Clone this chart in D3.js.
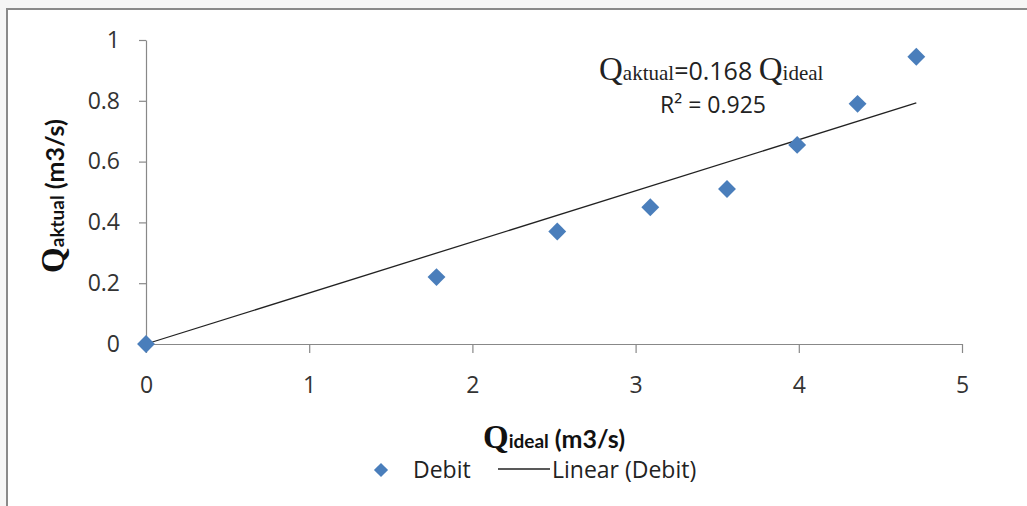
<!DOCTYPE html>
<html>
<head>
<meta charset="utf-8">
<script src="https://cdn.jsdelivr.net/npm/d3@7"></script>
<style>
  body { margin: 0; background: #f6f6f6; }
  svg { display: block; }
  .tick text { font-family: "Open Sans", sans-serif; font-size: 23px; fill: #333; }
</style>
</head>
<body>
<svg id="chart" width="1027" height="506"></svg>
<script>
// data
var qIdeal  = [0, 1.78, 2.52, 3.09, 3.56, 3.99, 4.36, 4.72];
var qAktual = [0, 0.22, 0.37, 0.45, 0.51, 0.655, 0.79, 0.945];
var xTicks = [0, 1, 2, 3, 4, 5];
var yTicks = [0, 0.2, 0.4, 0.6, 0.8, 1];
var slope = 0.168;
var r2 = 0.925;

var svg = d3.select("#chart");

// chart frame
svg.append("rect")
  .attr("x", 7).attr("y", 9)
  .attr("width", 1040).attr("height", 520)
  .attr("fill", "#fff")
  .attr("stroke", "#8a8a8a")
  .attr("stroke-width", 2);

var x = d3.scaleLinear().domain([0, 5]).range([146, 962]);
var y = d3.scaleLinear().domain([0, 1]).range([344, 40]);

svg.append("g")
  .attr("transform", "translate(0," + y(0) + ")")
  .call(d3.axisBottom(x).tickValues(xTicks).tickSize(9).tickSizeOuter(0).tickPadding(24).tickFormat(d3.format("d")));

svg.append("g")
  .attr("transform", "translate(" + x(0) + ",0)")
  .call(d3.axisLeft(y).tickValues(yTicks).tickSize(7).tickSizeOuter(0).tickPadding(19).tickFormat((d) => (d === 0 || d === 1 ? d : d.toFixed(1))));

svg.selectAll(".domain, .tick line").attr("stroke", "#888").attr("stroke-width", 1.2);

// trendline through origin
var xMax = d3.max(qIdeal);
svg.append("line")
  .attr("x1", x(0)).attr("y1", y(0))
  .attr("x2", x(xMax)).attr("y2", y(slope * xMax))
  .attr("stroke", "#222")
  .attr("stroke-width", 1.3);

// points
var pts = qIdeal.map((d, i) => ({ x: d, y: qAktual[i] }));
svg.selectAll("path.pt")
  .data(pts)
  .enter()
  .append("path")
  .attr("class", "pt")
  .attr("d", d3.symbol().type(d3.symbolSquare).size(160))
  .attr("transform", (d) => ("translate(" + x(d.x) + "," + y(d.y) + ") rotate(45)"))
  .attr("fill", "#4a7ebb");

// equation text
var eq = svg.append("text")
  .attr("x", 599).attr("y", 80)
  .style("fill", "#222");
eq.append("tspan").text("Q")
  .style("font-family", "'Liberation Serif', serif").style("font-size", "33px");
eq.append("tspan").text("aktual")
  .style("font-family", "'Liberation Serif', serif").style("font-size", "21px");
eq.append("tspan").text("=" + slope + " ")
  .style("font-family", "'Open Sans', sans-serif").style("font-size", "25px");
eq.append("tspan").text("Q")
  .style("font-family", "'Liberation Serif', serif").style("font-size", "33px");
eq.append("tspan").text("ideal")
  .style("font-family", "'Liberation Serif', serif").style("font-size", "21px");

svg.append("text")
  .attr("x", 660).attr("y", 113)
  .style("font-family", "'Open Sans', sans-serif").style("font-size", "23px").style("fill", "#222")
  .text("R² = " + r2);

// axis titles
function axisTitle(g, sub) {
  g.append("tspan").text("Q")
    .style("font-family", "'Liberation Serif', serif").style("font-size", "33px").style("font-weight", "bold");
  g.append("tspan").text(sub)
    .style("font-family", "Lato, sans-serif").style("font-size", "19px").style("font-weight", "bold");
  g.append("tspan").text(" (m3/s)")
    .style("font-family", "Lato, sans-serif").style("font-size", "25px").style("font-weight", "bold");
}

var xt = svg.append("text")
  .attr("x", 554).attr("y", 448)
  .attr("text-anchor", "middle")
  .style("fill", "#111");
axisTitle(xt, "ideal");

var yt = svg.append("text")
  .attr("transform", "translate(64,196) rotate(-90)")
  .attr("text-anchor", "middle")
  .style("fill", "#111");
axisTitle(yt, "aktual");

// legend
var lg = svg.append("g").attr("transform", "translate(381,470)");
lg.append("path")
  .attr("d", d3.symbol().type(d3.symbolSquare).size(100))
  .attr("transform", "rotate(45)")
  .attr("fill", "#4a7ebb");
lg.append("text")
  .attr("x", 32).attr("y", 8)
  .style("font-family", "'Open Sans', sans-serif").style("font-size", "23px").style("fill", "#222")
  .text("Debit");
lg.append("line")
  .attr("x1", 117).attr("x2", 169).attr("y1", -1).attr("y2", -1)
  .attr("stroke", "#222").attr("stroke-width", 1.3);
lg.append("text")
  .attr("x", 171).attr("y", 8)
  .style("font-family", "'Open Sans', sans-serif").style("font-size", "23px").style("fill", "#222")
  .text("Linear (Debit)");
</script>
</body>
</html>
